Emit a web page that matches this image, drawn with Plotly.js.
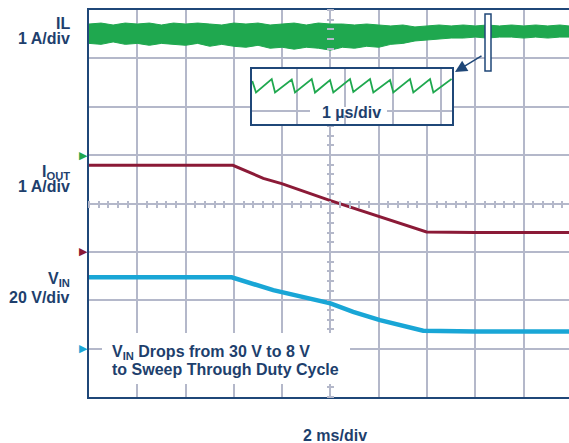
<!DOCTYPE html>
<html><head><meta charset="utf-8">
<script src="https://cdn.plot.ly/plotly-3.0.1.min.js"></script>
<style>html,body{margin:0;padding:0;background:#fff}#chart{width:569px;height:443px}</style>
</head><body><div id="chart"></div>
<script>
// ---- data (time in ms, 2 ms/div) ----
const ilTime  = [-10,-9.5,-9,-8.5,-8,-7.5,-7,-6.5,-6,-5.5,-5,-4.5,-4,-3.5,-3,-2.5,-2,-1.5,-1,-0.5,0,0.5,1,1.5,2,2.5,3,3.5,4,4.5,5,5.5,6,6.5,7,7.5,8,8.5,9,9.5,9.88];
const ilUpper = [2.71,2.73,2.69,2.73,2.71,2.73,2.69,2.73,2.71,2.73,2.71,2.69,2.73,2.71,2.73,2.69,2.71,2.73,2.69,2.73,2.71,2.71,2.69,2.71,2.69,2.67,2.69,2.65,2.67,2.69,2.67,2.69,2.67,2.69,2.67,2.69,2.67,2.69,2.67,2.69,2.67];
const ilLower = [2.31,2.29,2.34,2.29,2.31,2.27,2.31,2.29,2.27,2.31,2.25,2.29,2.25,2.23,2.27,2.21,2.23,2.19,2.23,2.21,2.17,2.23,2.21,2.25,2.23,2.29,2.31,2.36,2.38,2.40,2.42,2.42,2.44,2.42,2.44,2.44,2.42,2.44,2.42,2.44,2.44];

const ioutTime = [-10,-7,-4.04,-2.78,-2.02,0,2.05,3.71,3.98,6,9.88];
const ioutAmps = [1.79,1.79,1.79,1.52,1.41,1.06,0.73,0.46,0.41,0.40,0.40];

const vinTime  = [-10,-7,-4.09,-2.37,0,0.94,2.05,3.84,6,9.88];
const vinVolts = [29.5,29.6,29.5,24.2,18.7,15.2,11.8,7.4,7.1,7.1];

// inset: inductor ripple, 1 us/div
const insetTime   = [0.069,0.146,0.473,0.542,0.890,0.958,1.306,1.375,1.688,1.756,2.104,2.173,2.521,2.590,2.938,3.006,3.354,3.423,3.771,3.840,4.22];
const insetRipple = [3.0,1.85,3.2,1.85,3.15,1.85,3.2,1.85,3.1,1.85,3.2,1.9,3.2,1.85,3.1,1.85,3.2,1.85,3.2,1.85,3.2];

// ---- styling ----
const NAVY='#1e3f6d', LINE='#1f4778', GRID='#b4b8ca';
const GREEN='#1fa84f', RED='#8b1a37', CYAN='#19a6d6';
const FONT={family:'Liberation Sans, Arial, sans-serif', size:16, color:NAVY, weight:'bold'};
const xRange=[-10,9.88];

const traces=[
 {x:vinTime,y:vinVolts,xaxis:'x',yaxis:'y',mode:'lines',line:{color:CYAN,width:4.5}},
 {x:ilTime,y:ilLower,xaxis:'x',yaxis:'y7',mode:'lines',line:{color:GREEN,width:1}},
 {x:ilTime,y:ilUpper,xaxis:'x',yaxis:'y7',mode:'lines',line:{color:GREEN,width:1},fill:'tonexty',fillcolor:GREEN},
 {x:ioutTime,y:ioutAmps,xaxis:'x3',yaxis:'y3',mode:'lines',line:{color:RED,width:3}},
 {x:insetTime,y:insetRipple,xaxis:'x2',yaxis:'y2',mode:'lines',line:{color:GREEN,width:1.8}}
];

const hidden={showgrid:false,zeroline:false,showline:false,showticklabels:false};
function lab(text,x,y,xanchor){
  return {xref:'paper',yref:'paper',x:x,y:y,xanchor:xanchor,yanchor:'middle',text:text,showarrow:false,font:FONT};
}
// channel zero markers: each placed at 0 on its own channel axis
const groundMarks = [['y7',GREEN],['y3',RED],['y',CYAN]].map(([ax,c])=>({xref:'paper',yref:ax,x:-0.0115,y:0,
  xanchor:'center',yanchor:'middle',text:'▶',showarrow:false,font:{family:'DejaVu Sans',size:11,color:c}}));

const layout={
  width:569,height:443,margin:{l:89,r:0,t:10,b:46},
  paper_bgcolor:'#fff',plot_bgcolor:'#fff',showlegend:false,hovermode:false,
  xaxis:{range:xRange,tick0:0,dtick:2,showgrid:true,gridcolor:GRID,gridwidth:2,zeroline:false,
         showline:true,mirror:true,linecolor:LINE,linewidth:2,showticklabels:false,ticks:''},
  // main axis = VIN scale, 20 V/div
  yaxis:{range:[-20,140],tick0:0,dtick:20,showgrid:true,gridcolor:GRID,gridwidth:2,zeroline:false,
         showline:true,linecolor:LINE,linewidth:2,showticklabels:false,ticks:''},
  // centre-line minor ticks (x3 along horizontal centre, y3 = IOUT 1 A/div along vertical centre)
  xaxis3:Object.assign({overlaying:'x',anchor:'free',position:0.509,range:xRange,tick0:0,dtick:0.4,
         ticks:'outside',ticklen:7,tickwidth:2,tickcolor:GRID},hidden),
  yaxis3:Object.assign({overlaying:'y',anchor:'free',position:0.5103,side:'left',range:[-3,5],tick0:0,dtick:0.2,
         ticks:'outside',ticklen:7,tickwidth:2,tickcolor:GRID},hidden),
  yaxis7:{overlaying:'y',range:[-5,3],visible:false},
  xaxis2:{domain:[0.3396,0.7563],anchor:'y2',range:[0.0625,4.229],tick0:0,dtick:1,showgrid:true,gridcolor:GRID,gridwidth:2,
          zeroline:false,showline:true,mirror:true,linecolor:LINE,linewidth:2,showticklabels:false,ticks:''},
  yaxis2:{domain:[0.7054,0.8475],anchor:'x2',range:[-1.3,4.2],tickvals:[0],showgrid:true,gridcolor:GRID,gridwidth:2,
          zeroline:false,showline:true,mirror:true,linecolor:LINE,linewidth:2,showticklabels:false,ticks:''},
  shapes:[
    {type:'rect',xref:'paper',yref:'paper',x0:0.4604,x1:0.6208,y0:0.7287,y1:0.7494,fillcolor:'#fff',line:{width:0},layer:'above'},
    {type:'rect',xref:'paper',yref:'paper',x0:0.0271,x1:0.5438,y0:0.0336,y1:0.1654,fillcolor:'#fff',line:{width:0},layer:'above'},
    {type:'rect',xref:'paper',yref:'paper',x0:0.825,x1:0.8375,y0:0.8424,y1:0.9897,fillcolor:'#fff',line:{color:LINE,width:1.5},layer:'above'}
  ],
  annotations:[
    lab('IL',-0.0354,0.9664,'right'),
    lab('1 A/div',-0.0354,0.9276,'right'),
    lab('I<sub>OUT</sub>',-0.0354,0.5801,'right'),
    lab('1 A/div',-0.0354,0.5439,'right'),
    lab('V<sub>IN</sub>',-0.0354,0.3036,'right'),
    lab('20 V/div',-0.0354,0.2571,'right'),
    lab('V<sub>IN</sub> Drops from 30 V to 8 V',0.0438,0.1150,'left'),
    lab('to Sweep Through Duty Cycle',0.0438,0.0698,'left'),
    lab('2 ms/div',0.5125,-0.0982,'center'),
    lab('1 µs/div',0.5473,0.7351,'center'),
    {xref:'paper',yref:'paper',x:0.7625,y:0.8398,ax:28,ay:-17,text:'',showarrow:true,
     arrowhead:2,arrowsize:1.6,arrowwidth:1.5,arrowcolor:LINE,standoff:0}
  ].concat(groundMarks)
};
Plotly.newPlot('chart',traces,layout,{displayModeBar:false,staticPlot:true});
</script>
</body></html>
